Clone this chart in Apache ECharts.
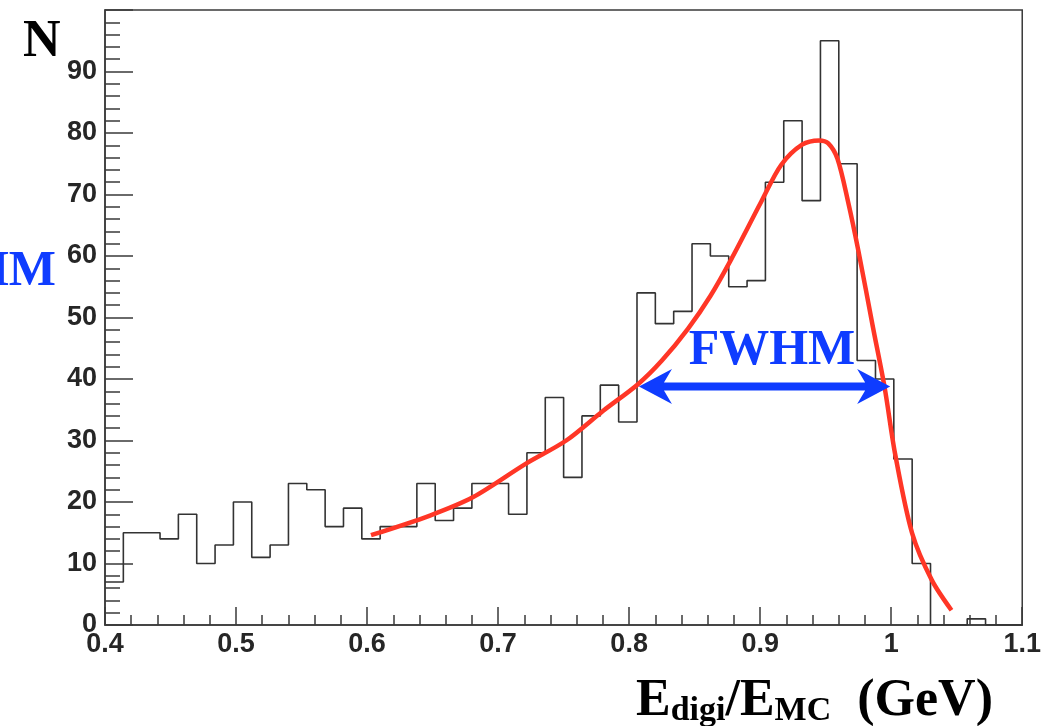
<!DOCTYPE html>
<html>
<head>
<meta charset="utf-8">
<script src="https://cdn.jsdelivr.net/npm/echarts@6/dist/echarts.min.js"></script>
<style>
html,body{margin:0;padding:0;background:#fff;}
#c{width:1044px;height:726px;}
</style>
</head>
<body>
<div id="c"></div>
<script>
// ---- data ----
const xMin = 0.4;
const binWidth = 0.014;
const binCounts = [7,15,15,14,18,10,13,20,11,13,23,22,16,19,14,16,16,23,17,19,23,23,18,28,37,24,34,39,33,54,49,51,62,60,55,56,72,82,69,95,75,43,40,27,10,0,0,1,0,0];
const fitX = [0.603,0.648,0.681,0.721,0.752,0.780,0.807,0.825,0.845,0.862,0.878,0.901,0.916,0.932,0.945,0.952,0.959,0.967,0.975,0.986,0.995,1.003,1.016,1.031,1.046];
const fitY = [14.6,17.8,20.8,26.2,30.0,34.8,39.2,43.0,48.2,53.5,59.5,68.9,74.8,78.1,78.8,78.3,75.8,68.9,60.8,48.5,38.6,27.8,14.9,7.3,2.4];
const fwhmX = [0.8075, 0.9992];
const fwhmY = 38.8;
const xTicks = [0.4,0.5,0.6,0.7,0.8,0.9,1.0,1.1];
const yTicks = [0,10,20,30,40,50,60,70,80,90];

// ---- build ----
const histPts = [];
binCounts.forEach((v,i)=>{
  const lo = +(xMin + i*binWidth).toFixed(4);
  const hi = +(xMin + (i+1)*binWidth).toFixed(4);
  histPts.push([lo, v]); histPts.push([hi, v]);
});
const fitPts = fitX.map((x,i)=>[x, fitY[i]]);

const chart = echarts.init(document.getElementById('c'), null, {renderer:'canvas'});
const labelFont = {fontFamily:'Liberation Sans, Arial, sans-serif', fontWeight:'bold', fontSize:27, color:'#262626'};
const serif = 'Liberation Serif, Times New Roman, serif';
chart.setOption({
  animation:false,
  backgroundColor:'#fff',
  grid:{left:105, right:20, top:10, bottom:101, show:true, borderColor:'#3a3a3a', borderWidth:1.5, backgroundColor:'transparent'},
  xAxis:{
    type:'value', min:0.4, max:1.1, interval:0.1,
    axisLine:{show:true, onZero:false, lineStyle:{color:'#3a3a3a', width:1.5}},
    axisTick:{show:true, inside:true, length:18, lineStyle:{color:'#3a3a3a', width:1.5}},
    minorTick:{show:true, splitNumber:5, length:10, lineStyle:{color:'#3a3a3a', width:1.5}},
    splitLine:{show:false},
    axisLabel:Object.assign({margin:6, formatter:v=>{
      const t = xTicks.find(k=>Math.abs(k-v)<1e-6); return t===undefined?'':String(+t.toFixed(1));
    }}, labelFont)
  },
  yAxis:{
    type:'value', min:0, max:100, interval:10,
    axisLine:{show:true, onZero:false, lineStyle:{color:'#3a3a3a', width:1.5}},
    axisTick:{show:true, inside:true, length:28, lineStyle:{color:'#3a3a3a', width:1.5}},
    minorTick:{show:true, splitNumber:5, length:15, lineStyle:{color:'#3a3a3a', width:1.5}},
    splitLine:{show:false},
    axisLabel:Object.assign({margin:8, formatter:v=> yTicks.indexOf(v)>=0 ? String(v) : ''}, labelFont)
  },
  series:[
    {type:'line', data:histPts, symbol:'none', lineStyle:{color:'#333', width:1.6}, z:2},
    {type:'line', data:fitPts, smooth:0.3, symbol:'none', lineStyle:{color:'#ff3626', width:4.5}, z:3},
    {type:'custom', z:4, data:[[fwhmX[0], fwhmX[1], fwhmY]],
      renderItem:(params, api)=>{
        const a = api.coord([api.value(0), api.value(2)]);
        const b = api.coord([api.value(1), api.value(2)]);
        const y = a[1], x0 = a[0], x1 = b[0];
        const hl = 33, hh = 17.5, nj = 25, st = 4;
        const pts = [[x0,y],[x0+hl,y-hh],[x0+nj,y-st],[x1-nj,y-st],[x1-hl,y-hh],[x1,y],[x1-hl,y+hh],[x1-nj,y+st],[x0+nj,y+st],[x0+hl,y+hh]];
        return {type:'polygon', shape:{points:pts}, style:{fill:'#0f3cff'}};
      }
    }
  ],
  graphic:[
    {type:'text', x:772, y:376, style:{text:'FWHM', fill:'#0f3cff', font:'bold 50px '+serif, textAlign:'center', textVerticalAlign:'bottom'}, z:10},
    {type:'text', x:56, y:297, style:{text:'FWHM', fill:'#0f3cff', font:'bold 50px '+serif, textAlign:'right', textVerticalAlign:'bottom'}, z:10},
    {type:'text', x:23, y:69, style:{text:'N', fill:'#000', font:'bold 52px '+serif, textAlign:'left', textVerticalAlign:'bottom'}, z:10},
    {type:'text', x:636, y:728, style:{
      text:'{b|E}{s|digi}{b|/E}{s|MC}{b|  (GeV)}',
      textVerticalAlign:'bottom', textAlign:'left',
      rich:{
        b:{font:'bold 52px '+serif, fill:'#000', verticalAlign:'bottom', lineHeight:56},
        s:{font:'bold 34px '+serif, fill:'#000', verticalAlign:'bottom', lineHeight:56}
      }
    }, z:10}
  ]
});
</script>
</body>
</html>
